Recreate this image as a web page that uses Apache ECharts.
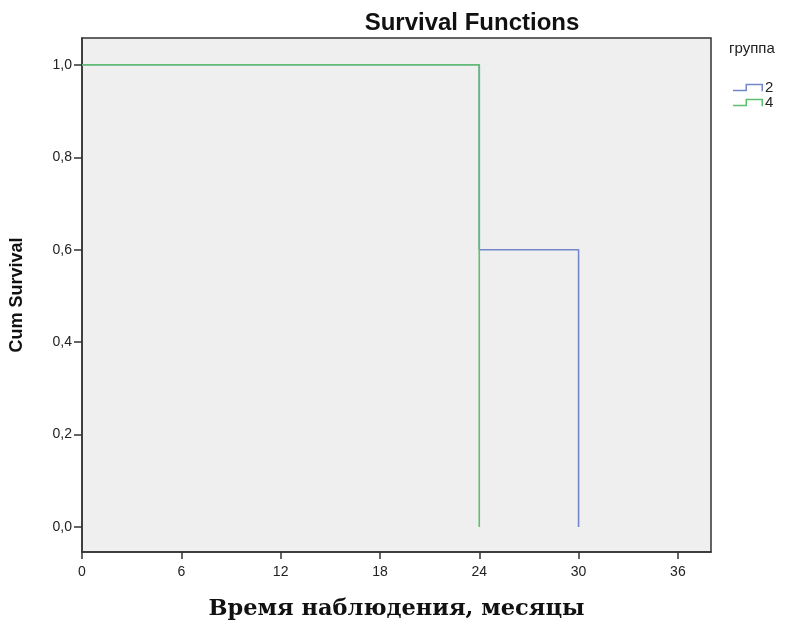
<!DOCTYPE html>
<html><head><meta charset="utf-8">
<script src="https://cdn.jsdelivr.net/npm/echarts@6/dist/echarts.min.js"></script>
<style>html,body{margin:0;padding:0;background:#fff}#c{width:786px;height:626px}</style>
</head><body><div id="c"></div>
<script>
const groups = ['2', '4'];
const group2Times = [0, 24, 30];
const group2Surv = [1.0, 0.6, 0.0];
const group4Times = [0, 24];
const group4Surv = [1.0, 0.0];
const xTicks = [0, 6, 12, 18, 24, 30, 36];
const yTicks = [0, 0.2, 0.4, 0.6, 0.8, 1.0];
const colors = ['#7287c9', '#5ec06c'];

const stepIcon = 'path://M0,6 L12.5,6 L12.5,0 L30,0 L30,7.5 L28.5,7.5 L28.5,1.5 L14,1.5 L14,7.5 L0,7.5 Z';
const chart = echarts.init(document.getElementById('c'), null, {renderer: 'canvas'});
chart.setOption({
  animation: false,
  backgroundColor: '#fff',
  title: [
    {text: 'Survival Functions', left: 467, top: 6, textAlign: 'center',
     textStyle: {fontFamily: 'Liberation Sans', fontSize: 24, fontWeight: 'bold', color: '#111'}},
    {text: 'группа', left: 724, top: 36,
     textStyle: {fontFamily: 'Liberation Sans', fontSize: 15, fontWeight: 'normal', color: '#222'}}
  ],
  legend: {
    data: groups.map(g => ({name: g, icon: stepIcon})),
    orient: 'vertical', left: 728, top: 75, itemWidth: 30, itemHeight: 7.5, itemGap: 0,
    textStyle: {fontFamily: 'Liberation Sans', fontSize: 15, color: '#222', padding: [0,0,0,-3]}
  },
  grid: {left: 82, right: 75, top: 38, bottom: 74, show: true,
    backgroundColor: '#efefef', borderColor: '#333', borderWidth: 1.5},
  xAxis: {
    type: 'value', min: 0, max: 38,
    name: 'Время наблюдения, месяцы', nameLocation: 'middle', nameGap: 46,
    nameTextStyle: {fontFamily: 'DejaVu Serif', fontSize: 22.5, fontWeight: 'bold', color: '#111'},
    axisLine: {show: true, onZero: false, lineStyle: {color: '#333', width: 1.5}},
    axisTick: {show: true, length: 7, customValues: xTicks, lineStyle: {color: '#333', width: 1.5}},
    axisLabel: {customValues: xTicks, fontFamily: 'Liberation Sans', fontSize: 14, color: '#222', margin: 13},
    splitLine: {show: false}
  },
  yAxis: {
    type: 'value', min: -0.054, max: 1.058,
    name: 'Cum Survival', nameLocation: 'middle', nameGap: 56,
    nameTextStyle: {fontFamily: 'Liberation Sans', fontSize: 18, fontWeight: 'bold', color: '#111'},
    axisLine: {show: true, onZero: false, lineStyle: {color: '#333', width: 1.5}},
    axisTick: {show: true, length: 8, customValues: yTicks, lineStyle: {color: '#333', width: 1.5}},
    axisLabel: {customValues: yTicks, fontFamily: 'Liberation Sans', fontSize: 14, color: '#222', margin: 10,
      formatter: v => v.toFixed(1).replace('.', ',')},
    splitLine: {show: false}
  },
  series: [
    {name: groups[0], type: 'line', step: 'end', showSymbol: false, symbol: 'none',
     data: group2Times.map((t, i) => [t, group2Surv[i]]),
     lineStyle: {color: colors[0], width: 1.6}, itemStyle: {color: colors[0]}, z: 2},
    {name: groups[1], type: 'line', step: 'end', showSymbol: false, symbol: 'none',
     data: group4Times.map((t, i) => [t, group4Surv[i]]),
     lineStyle: {color: colors[1], width: 1.6}, itemStyle: {color: colors[1]}, z: 3}
  ]
});
</script></body></html>
